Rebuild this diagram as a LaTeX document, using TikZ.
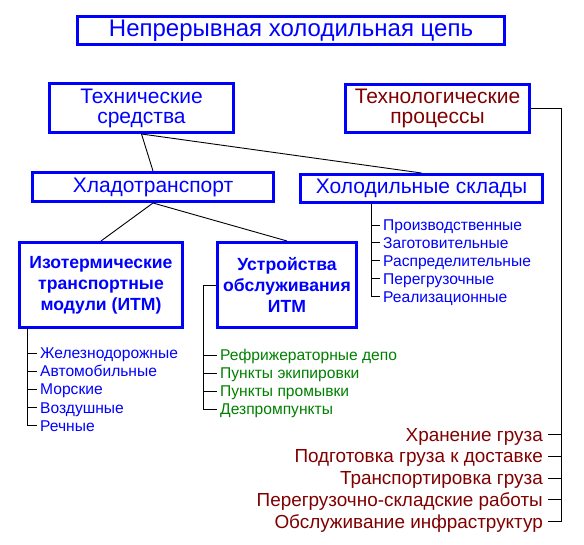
\documentclass[tikz,border=0pt]{standalone}
\usepackage{fontspec}
\setmainfont{Liberation Sans}
\usetikzlibrary{positioning}
\definecolor{chainblue}{RGB}{0,0,255}
\definecolor{chaingreen}{RGB}{0,128,0}
\definecolor{chainred}{RGB}{128,0,0}
\begin{document}
\begin{tikzpicture}[x=1pt,y=-1pt,
  box/.style={draw=chainblue, line width=3pt, inner sep=0pt, align=center},
  conn/.style={line width=0.9pt},
  item/.style={anchor=west, inner ysep=0pt, inner xsep=3.5pt, text height=11pt, text depth=0pt, font=\fontsize{15.6}{18}\selectfont},
  proc/.style={anchor=east, inner ysep=0pt, inner xsep=4.5pt, text height=13.5pt, text depth=0pt, text=chainred, font=\fontsize{18.9}{22}\selectfont}]
\useasboundingbox (0,0) rectangle (584,545);
\node[box, minimum width=427pt, minimum height=28pt, text=chainblue, font=\fontsize{24}{28}\selectfont] (chain) at (291,30.5) {Непрерывная холодильная цепь};
\node[box, minimum width=184pt, minimum height=49pt, text=chainblue, font=\fontsize{21}{20}\selectfont] (means) at (141.5,108) {Технические\\средства};
\node[box, minimum width=184pt, minimum height=48pt, text=chainred, font=\fontsize{21}{20}\selectfont] (techno) at (437.5,108.5) {Технологические\\процессы};
\node[box, minimum width=241pt, minimum height=29pt, text=chainblue, font=\fontsize{21}{24}\selectfont] (transport) at (153,187) {Хладотранспорт};
\node[box, minimum width=242pt, minimum height=28pt, text=chainblue, font=\fontsize{21}{24}\selectfont] (stores) at (421.5,188.5) {Холодильные склады};
\node[box, minimum width=163pt, minimum height=85pt, text=chainblue, font=\bfseries\fontsize{17.6}{21}\selectfont] (itm) at (101,285) {Изотермические\\транспортные\\модули (ИТМ)};
\node[box, minimum width=139pt, minimum height=85pt, text=chainblue, font=\bfseries\fontsize{17.6}{21}\selectfont] (service) at (287,285) {Устройства\\обслуживания\\ИТМ};
\draw[conn] (means.south) -- (transport.north);
\draw[conn] (means.south) -- (stores.north);
\draw[conn] (transport.south) -- (itm.north);
\draw[conn] (transport.south) -- (service.north);
\coordinate (storestop) at ([xshift=-50.5pt]stores.south);
\node[item, text=chainblue] (st1) at (379.5,225) {Производственные};
\node[item, text=chainblue] (st2) at (379.5,242.9) {Заготовительные};
\node[item, text=chainblue] (st3) at (379.5,260.8) {Распределительные};
\node[item, text=chainblue] (st4) at (379.5,278.7) {Перегрузочные};
\node[item, text=chainblue] (st5) at (379.5,296.6) {Реализационные};
\draw[conn] (storestop) |- (st1.west) (storestop) |- (st2.west) (storestop) |- (st3.west) (storestop) |- (st4.west) (storestop) |- (st5.west);
\coordinate (itmtop) at ([xshift=-74pt]itm.south);
\node[item, text=chainblue] (it1) at (36.5,353) {Железнодорожные};
\node[item, text=chainblue] (it2) at (36.5,371.2) {Автомобильные};
\node[item, text=chainblue] (it3) at (36.5,389.4) {Морские};
\node[item, text=chainblue] (it4) at (36.5,407.6) {Воздушные};
\node[item, text=chainblue] (it5) at (36.5,425.8) {Речные};
\draw[conn] (itmtop) |- (it1.west) (itmtop) |- (it2.west) (itmtop) |- (it3.west) (itmtop) |- (it4.west) (itmtop) |- (it5.west);
\coordinate (servicetop) at ([xshift=-12.5pt]service.west);
\node[item, text=chaingreen] (sv1) at (216.5,355) {Рефрижераторные депо};
\node[item, text=chaingreen] (sv2) at (216.5,373.1) {Пункты экипировки};
\node[item, text=chaingreen] (sv3) at (216.5,391.2) {Пункты промывки};
\node[item, text=chaingreen] (sv4) at (216.5,409.3) {Дезпромпункты};
\draw[conn] (service.west) -- (servicetop);
\draw[conn] (servicetop) |- (sv1.west) (servicetop) |- (sv2.west) (servicetop) |- (sv3.west) (servicetop) |- (sv4.west);
\coordinate (technotop) at ([xshift=30.5pt]techno.east);
\node[proc] (pr1) at (547.5,434.3) {Хранение груза};
\node[proc] (pr2) at (547.5,456.2) {Подготовка груза к доставке};
\node[proc] (pr3) at (547.5,478) {Транспортировка груза};
\node[proc] (pr4) at (547.5,499.9) {Перегрузочно-складские работы};
\node[proc] (pr5) at (547.5,521.7) {Обслуживание инфраструктур};
\draw[conn] (techno.east) -- (technotop);
\draw[conn] (technotop) |- (pr1.east) (technotop) |- (pr2.east) (technotop) |- (pr3.east) (technotop) |- (pr4.east) (technotop) |- (pr5.east);
\end{tikzpicture}
\end{document}
